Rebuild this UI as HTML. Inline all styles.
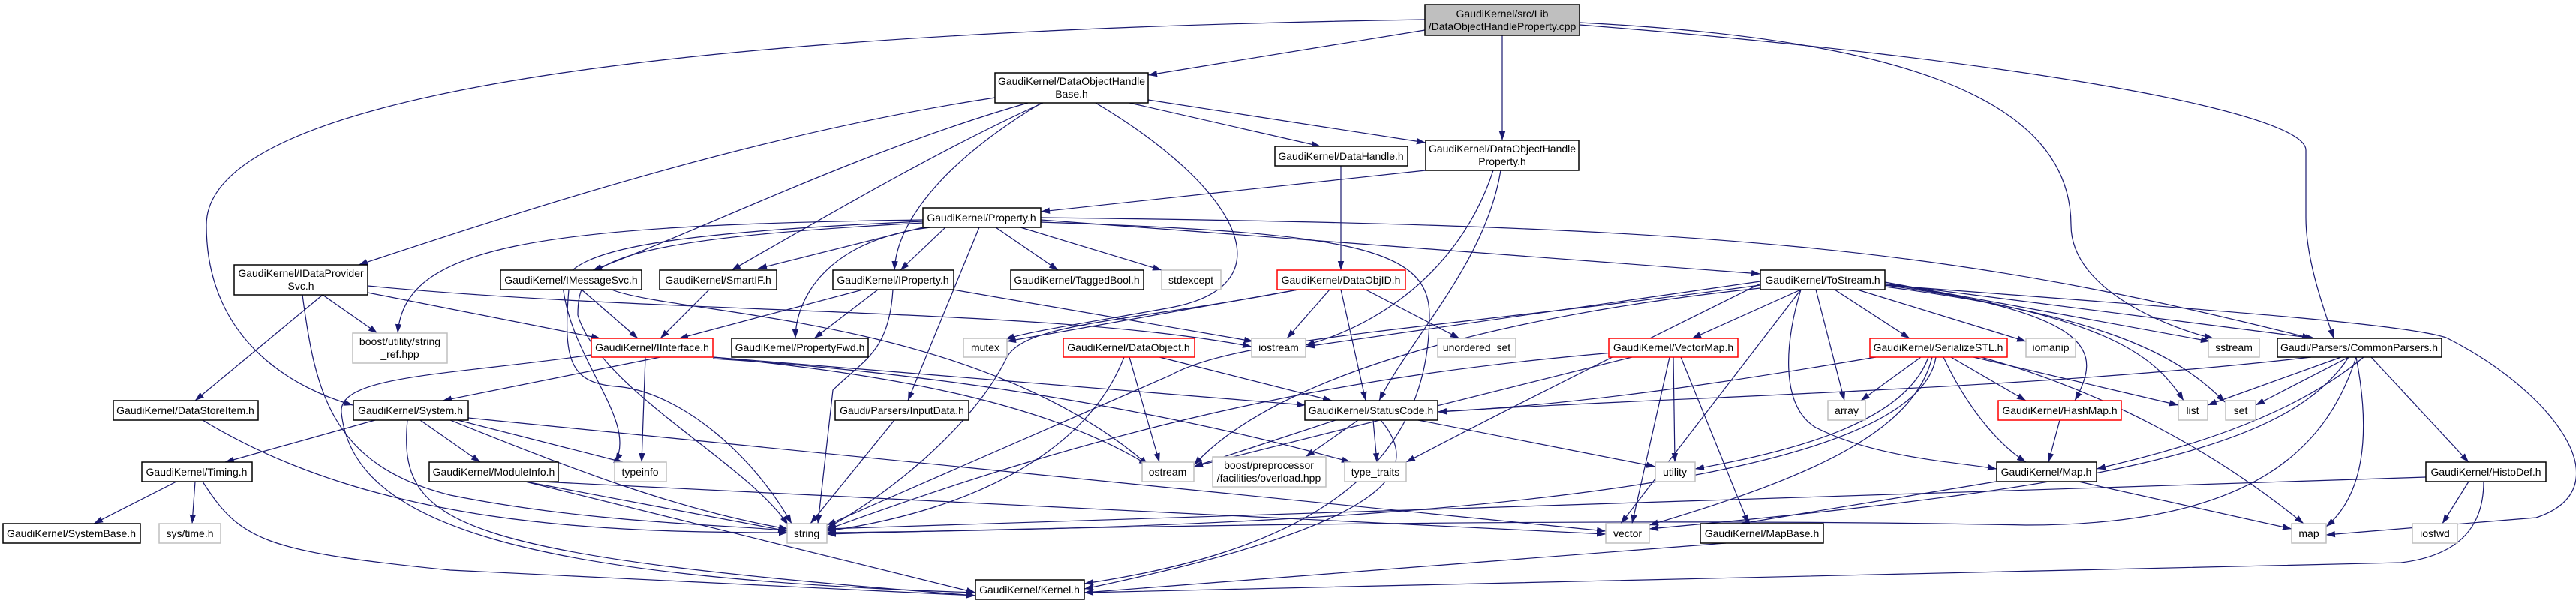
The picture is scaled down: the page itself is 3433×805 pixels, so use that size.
<!DOCTYPE html>
<html><head><meta charset="utf-8"><style>html,body{margin:0;padding:0;background:#fff}svg{display:block}</style></head><body>
<svg width="3433" height="805" viewBox="0 0 3433 805" xmlns="http://www.w3.org/2000/svg" font-family="Liberation Sans, sans-serif" font-size="14">
<defs><marker id="a" viewBox="0 0 10 7" refX="10" refY="3.5" markerWidth="12" markerHeight="9" markerUnits="userSpaceOnUse" orient="auto"><path d="M0,0L10,3.5L0,7z" fill="#191970"/></marker></defs>
<g fill="none" stroke="#191970" stroke-width="1.2" marker-end="url(#a)">
<path d="M1899,40L1530,100"/><path d="M2002,47L2002,187"/>
<path d="M1899,26C1000,40 275,110 275,300C275,460 400,520 470,540"/>
<path d="M2105,30C2500,50 2760,120 2760,300C2760,390 2900,440 2950,451"/>
<path d="M2105,33C2700,80 3073,150 3073,200L3073,290C3073,350 3100,420 3110,451"/>
<path d="M1326,130C1000,180 700,280 478,353"/><path d="M1370,137C1150,200 950,300 790,360"/>
<path d="M1390,137C1250,200 1080,300 975,360"/><path d="M1388,137C1250,220 1195,300 1192,360"/>
<path d="M1505,137L1760,195"/><path d="M1530,133L1900,190"/>
<path d="M1460,137C1650,250 1720,380 1560,410C1450,430 1380,440 1340,452"/>
<path d="M1900,227L1387,282"/><path d="M1990,227C1950,350 1850,430 1740,460"/><path d="M2000,227C1980,350 1880,450 1838,534"/>
<path d="M1787,221L1787,360"/>
<path d="M1230,293C700,300 540,330 530,444"/>
<path d="M1230,295C900,310 760,330 750,380C760,480 850,560 820,616"/>
<path d="M1230,297C800,320 770,350 770,420C800,520 1000,620 1050,700"/>
<path d="M1260,303L1200,360"/><path d="M1230,303L1010,358"/><path d="M1240,303C1100,320 1060,400 1060,451"/>
<path d="M1327,303L1410,360"/><path d="M1360,303L1548,360"/><path d="M1305,303L1210,534"/>
<path d="M1387,293L2346,365"/><path d="M1387,290C2300,300 2600,330 3080,451"/>
<path d="M1387,296C1800,310 1905,330 1905,420C1905,650 1700,740 1445,778"/>
<path d="M430,393L260,534"/><path d="M430,393L503,444"/><path d="M490,390L800,451"/>
<path d="M403,393C420,520 440,620 600,660C800,700 1000,700 1049,708"/>
<path d="M490,381C900,420 1400,410 1668,462"/>
<path d="M775,386L850,451"/><path d="M758,386C750,480 760,510 820,515C900,520 1000,600 1055,698"/>
<path d="M815,386C900,420 1300,420 1530,620"/>
<path d="M945,386L880,451"/>
<path d="M1150,386L905,451"/><path d="M1170,386L1085,451"/><path d="M1270,386L1670,455"/>
<path d="M1190,386C1185,470 1150,480 1110,520L1090,698"/>
<path d="M880,476L590,534"/><path d="M860,476L855,616"/>
<path d="M788,473C600,500 450,500 455,550C470,700 700,770 1300,790"/>
<path d="M950,476C1200,500 1400,540 1530,620"/><path d="M950,476L1740,540"/><path d="M950,478C1300,500 1600,560 1800,616"/>
<path d="M1730,386L1342,455"/><path d="M1772,386L1715,451"/><path d="M1787,386L1820,534"/><path d="M1820,386L1945,451"/>
<path d="M1730,386C1500,430 1360,430 1340,480C1300,560 1200,650 1102,704"/>
<path d="M1545,476L1775,534"/><path d="M1505,476L1545,616"/><path d="M1498,476C1450,600 1300,680 1102,708"/>
<path d="M2346,375L1740,462"/><path d="M2400,386L2255,451"/><path d="M2445,386L2545,451"/><path d="M2475,386L2700,455"/>
<path d="M2420,386L2458,534"/><path d="M2510,378C2800,420 2800,470 2765,534"/><path d="M2512,380C2800,420 2870,470 2910,534"/>
<path d="M2512,382C2800,420 2900,470 2965,536"/><path d="M2512,376L2945,455"/><path d="M2512,378L3085,451"/>
<path d="M2512,380C2900,410 3200,430 3260,450C3400,520 3500,650 3380,690L3100,713"/>
<path d="M2400,386C2380,450 2370,540 2420,570C2500,610 2600,615 2661,625"/>
<path d="M2400,386L2160,698"/><path d="M2346,380C1900,440 1650,450 1560,500L1102,700"/>
<path d="M2346,378C2200,450 2000,550 1874,616"/><path d="M2346,384C2000,420 1700,500 1591,620"/>
<path d="M2175,476L1591,622"/><path d="M2225,476L2175,698"/><path d="M2230,476L2232,616"/><path d="M2240,476L2330,698"/>
<path d="M2150,470C1800,500 1500,560 1102,706"/>
<path d="M2500,476C2300,510 2100,540 1916,549"/><path d="M2560,476L2480,534"/><path d="M2600,476L2700,534"/>
<path d="M2590,476C2620,540 2660,590 2700,616"/><path d="M2630,476L2903,540"/><path d="M2640,476C2800,520 2950,600 3070,698"/>
<path d="M2570,476C2540,560 2400,600 2259,625"/><path d="M2575,476C2550,580 2400,640 2198,700"/>
<path d="M2580,476C2560,600 2200,700 1102,710"/>
<path d="M3120,476L2942,540"/><path d="M3130,476L3006,540"/><path d="M3150,476C3050,560 2900,600 2794,625"/>
<path d="M3140,476C3160,580 3150,660 3100,702"/><path d="M3130,476C3050,600 2800,650 2198,705"/>
<path d="M3140,476C3100,600 3000,700 2700,700C2200,690 1500,700 1102,712"/><path d="M3160,476L3290,616"/>
<path d="M3080,476C2700,520 2200,530 1916,549"/>
<path d="M2745,560L2730,616"/><path d="M2660,642L2320,698"/><path d="M2770,642L3054,705"/>
<path d="M2300,724L1445,790"/>
<path d="M3233,636L1102,705"/><path d="M3290,642L3255,698"/><path d="M3310,642C3310,700 3280,740 3200,750L1445,790"/>
<path d="M1780,560L1591,622"/><path d="M1810,560L1740,609"/><path d="M1830,560L1835,616"/><path d="M1890,560L2206,622"/>
<path d="M1840,560C1900,630 1850,700 1445,785"/>
<path d="M500,560L300,616"/><path d="M560,560L640,616"/><path d="M610,560L830,616"/>
<path d="M600,560C750,620 900,680 1050,705"/><path d="M624,557L2140,708"/>
<path d="M543,560C530,700 600,740 1300,794"/>
<path d="M235,642L125,698"/><path d="M260,642L256,698"/><path d="M270,642C320,720 350,735 600,760L1300,794"/>
<path d="M700,642L1050,708"/><path d="M720,642L2140,712"/><path d="M700,642L1300,790"/>
<path d="M270,560C500,700 800,710 1050,710"/><path d="M1192,560L1080,698"/>
</g>
<g stroke-width="1.5" fill="#fff">
<rect x="1899" y="6" width="206" height="41" fill="#bfbfbf" stroke="#000"/>
<rect x="1326" y="97" width="204" height="40" stroke="#000"/>
<rect x="1900" y="187" width="204" height="40" stroke="#000"/>
<rect x="1699" y="195" width="177" height="26" stroke="#000"/>
<rect x="1230" y="277" width="157" height="26" stroke="#000"/>
<rect x="312" y="353" width="178" height="40" stroke="#000"/>
<rect x="667" y="360" width="188" height="26" stroke="#000"/>
<rect x="879" y="360" width="156" height="26" stroke="#000"/>
<rect x="1110" y="360" width="161" height="26" stroke="#000"/>
<rect x="1347" y="360" width="177" height="26" stroke="#000"/>
<rect x="1548" y="360" width="79" height="26" stroke="#bfbfbf"/>
<rect x="1702" y="360" width="171" height="26" stroke="#f00"/>
<rect x="2346" y="360" width="166" height="26" stroke="#000"/>
<rect x="470" y="444" width="126" height="40" stroke="#bfbfbf"/>
<rect x="788" y="451" width="162" height="25" stroke="#f00"/>
<rect x="975" y="451" width="182" height="25" stroke="#000"/>
<rect x="1284" y="451" width="58" height="25" stroke="#bfbfbf"/>
<rect x="1417" y="451" width="175" height="25" stroke="#f00"/>
<rect x="1668" y="451" width="72" height="25" stroke="#bfbfbf"/>
<rect x="1916" y="451" width="104" height="25" stroke="#bfbfbf"/>
<rect x="2144" y="451" width="172" height="25" stroke="#f00"/>
<rect x="2492" y="451" width="183" height="25" stroke="#f00"/>
<rect x="2700" y="451" width="66" height="25" stroke="#bfbfbf"/>
<rect x="2943" y="451" width="68" height="25" stroke="#bfbfbf"/>
<rect x="3035" y="451" width="219" height="25" stroke="#000"/>
<rect x="151" y="534" width="193" height="26" stroke="#000"/>
<rect x="471" y="534" width="153" height="26" stroke="#000"/>
<rect x="1113" y="534" width="178" height="26" stroke="#000"/>
<rect x="1739" y="534" width="177" height="26" stroke="#000"/>
<rect x="2436" y="534" width="50" height="26" stroke="#bfbfbf"/>
<rect x="2663" y="534" width="164" height="26" stroke="#f00"/>
<rect x="2903" y="534" width="39" height="26" stroke="#bfbfbf"/>
<rect x="2966" y="534" width="40" height="26" stroke="#bfbfbf"/>
<rect x="189" y="616" width="147" height="26" stroke="#000"/>
<rect x="572" y="616" width="172" height="26" stroke="#000"/>
<rect x="819" y="616" width="69" height="26" stroke="#bfbfbf"/>
<rect x="1522" y="616" width="69" height="26" stroke="#bfbfbf"/>
<rect x="1616" y="609" width="151" height="40" stroke="#bfbfbf"/>
<rect x="1792" y="616" width="82" height="26" stroke="#bfbfbf"/>
<rect x="2206" y="616" width="53" height="26" stroke="#bfbfbf"/>
<rect x="2661" y="616" width="133" height="26" stroke="#000"/>
<rect x="3233" y="616" width="160" height="26" stroke="#000"/>
<rect x="4" y="698" width="183" height="26" stroke="#000"/>
<rect x="212" y="698" width="82" height="26" stroke="#bfbfbf"/>
<rect x="1049" y="698" width="53" height="26" stroke="#bfbfbf"/>
<rect x="2140" y="698" width="58" height="26" stroke="#bfbfbf"/>
<rect x="2266" y="698" width="164" height="26" stroke="#000"/>
<rect x="3054" y="698" width="46" height="26" stroke="#bfbfbf"/>
<rect x="3215" y="698" width="60" height="26" stroke="#bfbfbf"/>
<rect x="1300" y="773" width="145" height="26" stroke="#000"/>
</g>
<g fill="#000" text-anchor="middle" lengthAdjust="spacingAndGlyphs">
<text x="2002" y="23">GaudiKernel/src/Lib</text><text x="2002" y="40">/DataObjectHandleProperty.cpp</text>
<text x="1428" y="113">GaudiKernel/DataObjectHandle</text><text x="1428" y="130">Base.h</text>
<text x="2002" y="203">GaudiKernel/DataObjectHandle</text><text x="2002" y="220">Property.h</text>
<text x="1787" y="213">GaudiKernel/DataHandle.h</text>
<text x="1308" y="295">GaudiKernel/Property.h</text>
<text x="401" y="369">GaudiKernel/IDataProvider</text><text x="401" y="386">Svc.h</text>
<text x="761" y="378">GaudiKernel/IMessageSvc.h</text>
<text x="957" y="378">GaudiKernel/SmartIF.h</text>
<text x="1190" y="378">GaudiKernel/IProperty.h</text>
<text x="1435" y="378">GaudiKernel/TaggedBool.h</text>
<text x="1587" y="378">stdexcept</text>
<text x="1787" y="378">GaudiKernel/DataObjID.h</text>
<text x="2429" y="378">GaudiKernel/ToStream.h</text>
<text x="533" y="460">boost/utility/string</text><text x="533" y="477">_ref.hpp</text>
<text x="869" y="468">GaudiKernel/IInterface.h</text>
<text x="1066" y="468">GaudiKernel/PropertyFwd.h</text>
<text x="1313" y="468">mutex</text>
<text x="1504" y="468">GaudiKernel/DataObject.h</text>
<text x="1704" y="468">iostream</text>
<text x="1968" y="468">unordered_set</text>
<text x="2230" y="468">GaudiKernel/VectorMap.h</text>
<text x="2583" y="468">GaudiKernel/SerializeSTL.h</text>
<text x="2733" y="468">iomanip</text>
<text x="2977" y="468">sstream</text>
<text x="3144" y="468">Gaudi/Parsers/CommonParsers.h</text>
<text x="247" y="552">GaudiKernel/DataStoreItem.h</text>
<text x="547" y="552">GaudiKernel/System.h</text>
<text x="1202" y="552">Gaudi/Parsers/InputData.h</text>
<text x="1827" y="552">GaudiKernel/StatusCode.h</text>
<text x="2461" y="552">array</text>
<text x="2745" y="552">GaudiKernel/HashMap.h</text>
<text x="2922" y="552">list</text>
<text x="2986" y="552">set</text>
<text x="262" y="634">GaudiKernel/Timing.h</text>
<text x="658" y="634">GaudiKernel/ModuleInfo.h</text>
<text x="853" y="634">typeinfo</text>
<text x="1556" y="634">ostream</text>
<text x="1691" y="625">boost/preprocessor</text><text x="1691" y="642">/facilities/overload.hpp</text>
<text x="1833" y="634">type_traits</text>
<text x="2232" y="634">utility</text>
<text x="2727" y="634">GaudiKernel/Map.h</text>
<text x="3313" y="634">GaudiKernel/HistoDef.h</text>
<text x="95" y="716">GaudiKernel/SystemBase.h</text>
<text x="253" y="716">sys/time.h</text>
<text x="1075" y="716">string</text>
<text x="2169" y="716">vector</text>
<text x="2348" y="716">GaudiKernel/MapBase.h</text>
<text x="3077" y="716">map</text>
<text x="3245" y="716">iosfwd</text>
<text x="1372" y="791">GaudiKernel/Kernel.h</text>
</g>
</svg>
</body></html>
